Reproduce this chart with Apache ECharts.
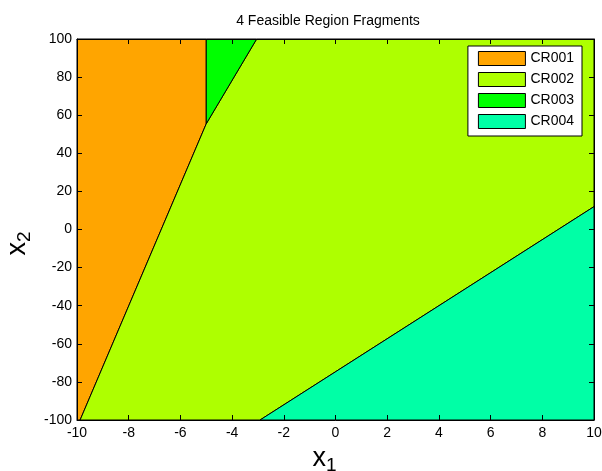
<!DOCTYPE html>
<html>
<head>
<meta charset="utf-8">
<script src="https://cdn.jsdelivr.net/npm/echarts@6/dist/echarts.min.js"></script>
<style>html,body{margin:0;padding:0;background:#fff}#chart{width:602px;height:471px}</style>
</head>
<body>
<div id="chart"></div>
<script>
// Region names and fill colours
const regionNames = ['CR001', 'CR002', 'CR003', 'CR004'];
const regionColors = ['#FFA500', '#AEFF00', '#00FF00', '#00FFA6'];

// Polygon vertices of each critical region, in (x1, x2)
const cr001 = [[-10, -100], [-10, 100], [-5, 100], [-5, 55.5], [-9.88, -100]];
const cr002 = [[-9.88, -100], [-5, 55.5], [-3.05, 100], [10, 100], [10, 12], [-2.92, -100]];
const cr003 = [[-5, 55.5], [-5, 100], [-3.05, 100]];
const cr004 = [[-2.92, -100], [10, 12], [10, -100]];
const regions = [cr001, cr002, cr003, cr004];

// Axis ticks
const xTicks = [-10, -8, -6, -4, -2, 0, 2, 4, 6, 8, 10];
const yTicks = [-100, -80, -60, -40, -20, 0, 20, 40, 60, 80, 100];

const font = 'Liberation Sans, Arial, Helvetica, sans-serif';

function polygonSeries(name, color, verts) {
  return {
    name: name,
    type: 'custom',
    coordinateSystem: 'cartesian2d',
    z: 1,
    itemStyle: { color: color, borderColor: '#000', borderWidth: 1 },
    data: verts,
    renderItem: function (params, api) {
      if (params.dataIndex !== 0) return null;
      const pts = verts.map(function (v) { return api.coord(v); });
      return {
        type: 'polygon',
        shape: { points: pts },
        style: { fill: color, stroke: '#000', lineWidth: 1 }
      };
    }
  };
}

const baseAxis = {
  z: 10,
  axisLine: { show: true, onZero: false, lineStyle: { color: '#000', width: 1 } },
  axisTick: { show: true, inside: true, length: 5, lineStyle: { color: '#000' } },
  splitLine: { show: false },
  axisLabel: { color: '#000', fontSize: 14, fontFamily: font }
};

const nameRich = {
  x: { fontSize: 27, fontFamily: font, color: '#000' },
  s: { fontSize: 19, fontFamily: font, color: '#000', verticalAlign: 'bottom', padding: [14, 0, 0, 0] }
};

const chart = echarts.init(document.getElementById('chart'));
chart.setOption({
  animation: false,
  backgroundColor: '#fff',
  title: {
    text: '4 Feasible Region Fragments',
    left: 323, top: 9, textAlign: 'center',
    textStyle: { fontSize: 14, fontWeight: 'normal', color: '#000', fontFamily: font }
  },
  grid: { left: 77, right: 8, top: 39, bottom: 51, containLabel: false, outerBoundsMode: 'none' },
  legend: {
    orient: 'vertical',
    right: 20, top: 46,
    padding: [5, 8, 7, 10],
    itemWidth: 47, itemHeight: 14, itemGap: 6,
    backgroundColor: '#fff',
    borderColor: '#000', borderWidth: 1, borderRadius: 0,
    icon: 'rect',
    textStyle: { fontSize: 14, color: '#000', fontFamily: font },
    data: regionNames.map(function (n, i) {
      return { name: n, icon: 'rect', itemStyle: { color: regionColors[i], borderColor: '#000', borderWidth: 1 } };
    })
  },
  xAxis: [
    Object.assign({}, baseAxis, {
      type: 'value', min: -10, max: 10, interval: 2, position: 'bottom',
      axisLabel: Object.assign({}, baseAxis.axisLabel, { margin: 6, formatter: function (v) { return xTicks.indexOf(v) >= 0 ? String(v) : ''; } }),
      name: '{x|x}{s|1}', nameLocation: 'middle', nameGap: 22,
      nameTextStyle: { padding: [0, 22, 0, 0], rich: nameRich }
    }),
    Object.assign({}, baseAxis, {
      type: 'value', min: -10, max: 10, interval: 2, position: 'top',
      axisLabel: { show: false }
    })
  ],
  yAxis: [
    Object.assign({}, baseAxis, {
      type: 'value', min: -100, max: 100, interval: 20, position: 'left',
      axisLabel: Object.assign({}, baseAxis.axisLabel, { margin: 5, formatter: function (v) { return yTicks.indexOf(v) >= 0 ? String(v) : ''; } }),
      name: '{x|x}{s|2}', nameLocation: 'middle', nameGap: 43, nameRotate: 90,
      nameMoveOverlap: false,
      nameTextStyle: { padding: [5, 28, 0, 0], rich: nameRich }
    }),
    Object.assign({}, baseAxis, {
      type: 'value', min: -100, max: 100, interval: 20, position: 'right',
      axisLabel: { show: false }
    })
  ],
  series: regions.map(function (verts, i) {
    return polygonSeries(regionNames[i], regionColors[i], verts);
  })
});
</script>
</body>
</html>
